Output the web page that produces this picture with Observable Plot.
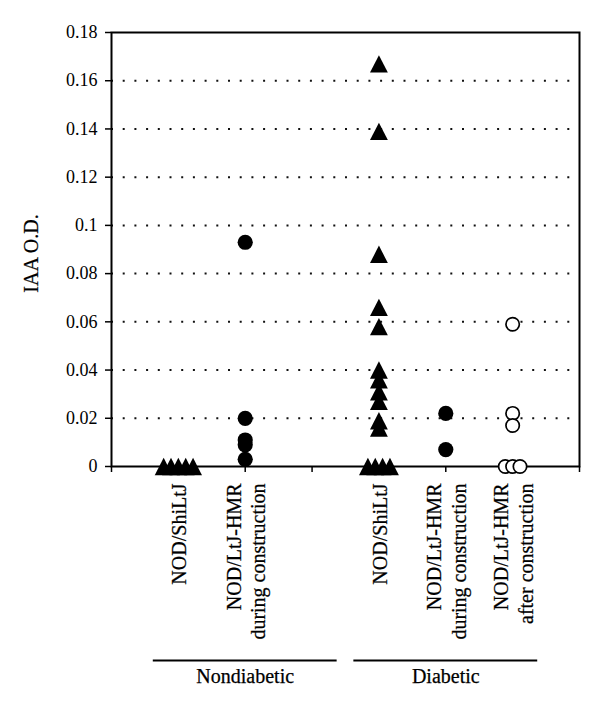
<!DOCTYPE html>
<html>
<head>
<meta charset="utf-8">
<script src="https://cdn.jsdelivr.net/npm/d3@7"></script>
<script src="https://cdn.jsdelivr.net/npm/@observablehq/plot@0.6"></script>
<style>
  html, body { margin: 0; padding: 0; background: white; }
  svg { display: block; }
</style>
</head>
<body>
<div id="chart"></div>
<script>
// ---- data ----
const categories = [
  "NOD/ShiLtJ",
  "NOD/LtJ-HMR\nduring construction",
  "NOD/ShiLtJ",
  "NOD/LtJ-HMR\nduring construction",
  "NOD/LtJ-HMR\nafter construction"
];
const categorySlots = [1, 2, 4, 5, 6];
const markers = ["triangle", "circle", "triangle", "circle", "open"];

const nondiabeticShiLtJ = [0, 0, 0, 0, 0];
const nondiabeticHMRDuring = [0.093, 0.020, 0.011, 0.009, 0.003];
const diabeticShiLtJ = [0.167, 0.139, 0.088, 0.066, 0.058, 0.040, 0.036, 0.031, 0.027, 0.019, 0.016, 0, 0, 0, 0];
const diabeticHMRDuring = [0.022, 0.007];
const diabeticHMRAfter = [0.059, 0.022, 0.017, 0, 0, 0];
const seriesValues = [nondiabeticShiLtJ, nondiabeticHMRDuring, diabeticShiLtJ, diabeticHMRDuring, diabeticHMRAfter];

const groupLabels = ["Nondiabetic", "Diabetic"];
const groupSlotRanges = [[1, 3], [4, 6]];

const yTickValues = [0, 0.02, 0.04, 0.06, 0.08, 0.1, 0.12, 0.14, 0.16, 0.18];
const gridValues = [0.02, 0.04, 0.06, 0.08, 0.1, 0.12, 0.14, 0.16];
const xTickSlots = [0, 1, 2, 3, 4, 5, 6, 7];
const yLabel = "IAA O.D.";

// ---- build tables ----
const zeroSpread = 0.11;
const points = [];
seriesValues.forEach((vals, i) => {
  const nz = vals.filter(v => v === 0).length;
  let k = 0;
  vals.forEach(v => {
    let x = categorySlots[i];
    if (v === 0) { x += (k - (nz - 1) / 2) * zeroSpread; k++; }
    points.push({x, y: v, marker: markers[i]});
  });
});
const catData = categories.map((c, i) => ({label: c, slot: categorySlots[i]}));
const groupData = groupLabels.map((g, i) => ({label: g, mid: (groupSlotRanges[i][0] + groupSlotRanges[i][1]) / 2}));

const triangle = {
  draw(context, size) {
    const r = Math.sqrt(size / Math.PI);
    const w = 2.15 * r, h = 2.1 * r;
    context.moveTo(0, -h / 2);
    context.lineTo(w / 2, h / 2);
    context.lineTo(-w / 2, h / 2);
    context.closePath();
  }
};

const font = "'Liberation Serif', 'Times New Roman', serif";

const chart = Plot.plot({
  width: 600,
  height: 711,
  marginLeft: 111,
  marginRight: 21,
  marginTop: 32,
  marginBottom: 245,
  x: {domain: [0, 7], axis: null},
  y: {domain: [0, 0.18], axis: null},
  style: {fontFamily: font, fontSize: "18px", background: "white", color: "black"},
  marks: [
    Plot.gridY(gridValues, {stroke: "#111", strokeOpacity: 1, strokeWidth: 2, strokeDasharray: "2 9.7"}),
    Plot.axisY(yTickValues, {
      tickFormat: d => d === 0 ? "0" : String(+d.toFixed(2)),
      tickSize: 6, tickPadding: 8, fontSize: 18, label: null, stroke: "black", strokeWidth: 1.5
    }),
    Plot.axisX(xTickSlots, {tickFormat: () => "", tickSize: 6, label: null, stroke: "black", strokeWidth: 1.5}),
    Plot.frame({stroke: "black", strokeWidth: 2}),
    Plot.dot(points.filter(d => d.marker === "triangle"), {x: "x", y: "y", symbol: triangle, r: 8.3, fill: "black", stroke: "none"}),
    Plot.dot(points.filter(d => d.marker === "circle"), {x: "x", y: "y", r: 7.6, fill: "black", stroke: "none"}),
    Plot.dot(points.filter(d => d.marker === "open"), {x: "x", y: "y", r: 6.7, fill: "white", stroke: "black", strokeWidth: 1.7}),
    Plot.text(catData, {
      x: "slot", text: "label", frameAnchor: "bottom", dy: 17,
      rotate: -90, textAnchor: "end", lineAnchor: "middle", lineHeight: 1.22,
      fontSize: 20, fill: "black", stroke: "black", strokeWidth: 0.25
    }),
    Plot.text([yLabel], {frameAnchor: "left", dx: -80, dy: 4, rotate: -90, textAnchor: "middle", fontSize: 20, fill: "black", stroke: "black", strokeWidth: 0.25}),
    Plot.ruleY(groupData, {x1: d => d.mid - 1.375, x2: d => d.mid + 1.375, y: () => 0, dy: 194, stroke: "black", strokeWidth: 2}),
    Plot.text(groupData, {x: "mid", text: "label", frameAnchor: "bottom", dy: 216, fontSize: 20, fill: "black", stroke: "black", strokeWidth: 0.25})
  ]
});
document.getElementById("chart").appendChild(chart);
</script>
</body>
</html>
